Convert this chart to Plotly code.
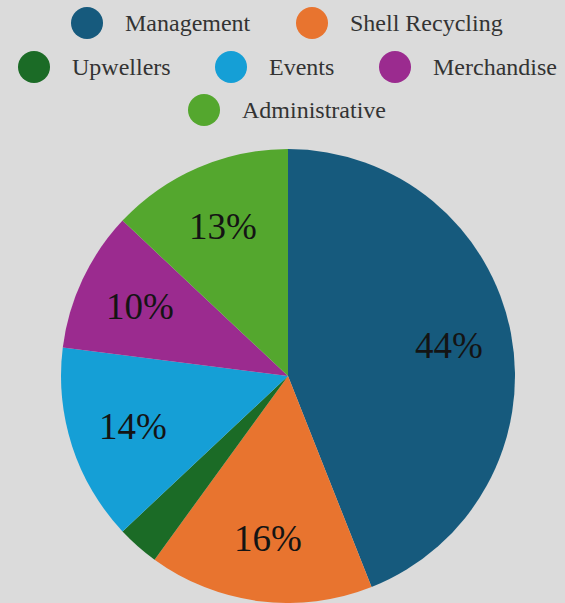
import math
import plotly.graph_objects as go

categories = ["Management", "Shell Recycling", "Upwellers", "Events", "Merchandise", "Administrative"]
values = [44, 16, 3, 14, 10, 13]
colors = ["#165a7d", "#e8742f", "#1b6b26", "#159fd6", "#9b2b8f", "#54a72e"]
show_label = [True, True, False, True, True, True]

W, H = 565, 603
FONT = "Liberation Serif"

# pie geometry (pixels)
CX, CY, R = 288, 376, 227

fig = go.Figure()
fig.add_trace(go.Pie(
    labels=categories,
    values=values,
    sort=False,
    direction="clockwise",
    rotation=0,
    marker=dict(colors=colors, line=dict(width=0)),
    textinfo="none",
    hoverinfo="label+percent",
    showlegend=False,
    domain=dict(x=[(CX - R) / W, (CX + R) / W], y=[(H - CY - R) / H, (H - CY + R) / H]),
))

shapes = []
annotations = []

# percentage labels placed along each slice's mid-angle
total = sum(values)
cum = 0
for v, s in zip(values, show_label):
    mid = (cum + v / 2) / total * 2 * math.pi
    cum += v
    if not s:
        continue
    rr = 0.72 * R
    px = CX + rr * math.sin(mid)
    py = CY - rr * math.cos(mid)
    annotations.append(dict(
        text=f"{round(100 * v / total)}%", xref="paper", yref="paper",
        x=px / W, y=1 - py / H, xanchor="center", yanchor="middle",
        showarrow=False, font=dict(family=FONT, size=37, color="#141414"),
    ))

# custom legend with large circular markers (layout positions only)
legend_rows = [
    [("Management", 87, 23), ("Shell Recycling", 312, 23)],
    [("Upwellers", 34, 67), ("Events", 231, 67), ("Merchandise", 395, 67)],
    [("Administrative", 204, 110)],
]
for row in legend_rows:
    for name, cx, cy in row:
        c = colors[categories.index(name)]
        shapes.append(dict(
            type="circle", xref="paper", yref="paper",
            xsizemode="pixel", ysizemode="pixel",
            xanchor=cx / W, yanchor=1 - cy / H,
            x0=-16, x1=16, y0=-16, y1=16,
            fillcolor=c, line=dict(width=0),
        ))
        annotations.append(dict(
            text=name, xref="paper", yref="paper",
            x=(cx + 36) / W, y=1 - cy / H,
            xanchor="left", yanchor="middle", showarrow=False,
            font=dict(family=FONT, size=24, color="#333333"),
        ))

fig.update_layout(
    width=W, height=H,
    margin=dict(l=0, r=0, t=0, b=0),
    paper_bgcolor="#dbdbdb",
    plot_bgcolor="#dbdbdb",
    font=dict(family=FONT),
    shapes=shapes,
    annotations=annotations,
    showlegend=False,
)

fig.write_html("out.html")
